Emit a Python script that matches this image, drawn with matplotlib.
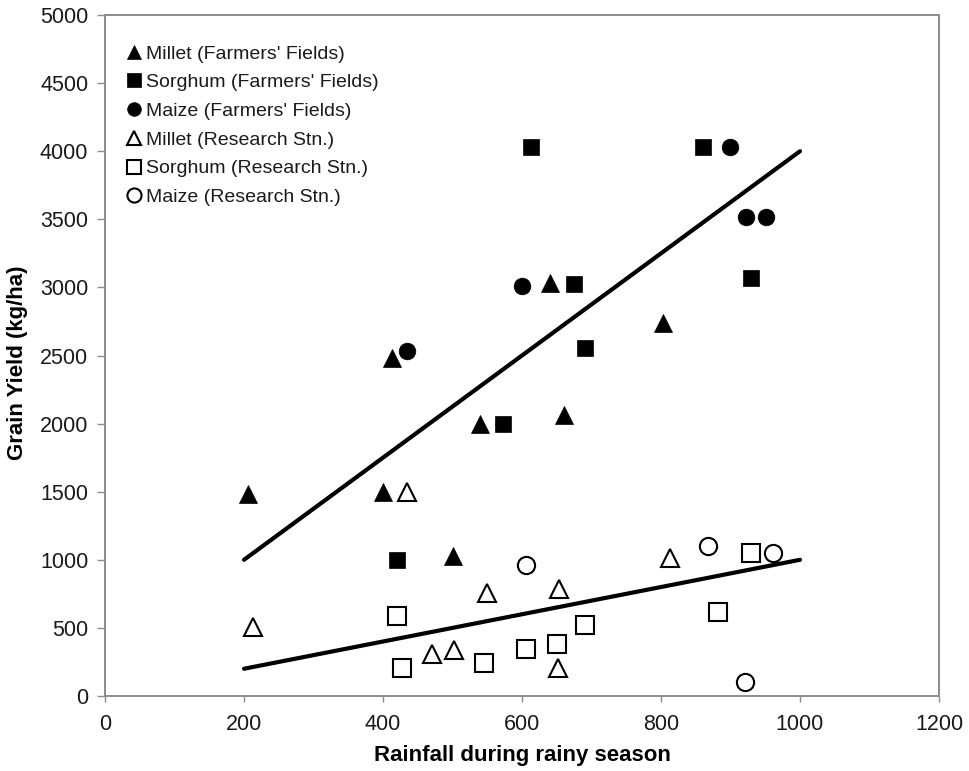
import matplotlib
matplotlib.use("Agg")
import matplotlib.pyplot as plt

plt.rcParams['font.family'] = ['Liberation Sans', 'DejaVu Sans']

# grain yield vs rainfall, farmers' fields (filled) and research station (open)
millet_ff_x = [205, 413, 400, 500, 540, 640, 660, 803]
millet_ff_y = [1480, 2480, 1500, 1030, 2000, 3030, 2060, 2740]
sorghum_ff_x = [613, 675, 690, 573, 860, 930, 420]
sorghum_ff_y = [4030, 3025, 2555, 2000, 4030, 3070, 1000]
maize_ff_x = [435, 600, 900, 923, 951]
maize_ff_y = [2530, 3010, 4030, 3515, 3515]

millet_rs_x = [213, 435, 550, 653, 470, 502, 652, 813]
millet_rs_y = [510, 1500, 755, 785, 310, 340, 205, 1015]
sorghum_rs_x = [420, 427, 545, 606, 650, 690, 930, 882]
sorghum_rs_y = [585, 205, 240, 345, 380, 520, 1050, 617]
maize_rs_x = [606, 868, 961, 921]
maize_rs_y = [962, 1100, 1050, 100]

# trend lines
trend_x = [200, 1000]
trend_ff_y = [1000, 4000]
trend_rs_y = [200, 1000]

fig = plt.figure(figsize=(9.69, 7.71), dpi=100)
ax = fig.add_axes([0.1084, 0.0973, 0.8606, 0.8832])

filled = dict(linestyle='none', color='k', mec='k', mew=0.5, zorder=3)
hollow = dict(linestyle='none', mfc='white', mec='k', mew=1.5, zorder=3)

ax.plot(millet_ff_x, millet_ff_y, '^', ms=12.3, label="Millet (Farmers' Fields)", **filled)
ax.plot(sorghum_ff_x, sorghum_ff_y, 's', ms=11.8, label="Sorghum (Farmers' Fields)", **filled)
ax.plot(maize_ff_x, maize_ff_y, 'o', ms=12.0, label="Maize (Farmers' Fields)", **filled)
ax.plot(millet_rs_x, millet_rs_y, '^', ms=13.0, label="Millet (Research Stn.)", **hollow)
ax.plot(sorghum_rs_x, sorghum_rs_y, 's', ms=12.4, label="Sorghum (Research Stn.)", **hollow)
ax.plot(maize_rs_x, maize_rs_y, 'o', ms=12.4, label="Maize (Research Stn.)", **hollow)

ax.plot(trend_x, trend_ff_y, color='k', lw=3, solid_capstyle='round', zorder=4)
ax.plot(trend_x, trend_rs_y, color='k', lw=3, solid_capstyle='round', zorder=4)

ax.set_xlim(0, 1200)
ax.set_ylim(0, 5000)
ax.set_xticks(range(0, 1201, 200))
ax.set_yticks(range(0, 5001, 500))

for s in ax.spines.values():
    s.set_color('#8c8c8c')
    s.set_linewidth(1.4)
ax.tick_params(axis='both', direction='out', color='#8c8c8c', width=1,
               labelsize=15.5, labelcolor='#1a1a1a')
ax.tick_params(axis='y', length=6, pad=6)
ax.tick_params(axis='x', length=4, pad=9)

ax.set_xlabel('Rainfall during rainy season', fontsize=16, fontweight='bold', labelpad=7)
ax.set_ylabel('Grain Yield (kg/ha)', fontsize=16, fontweight='bold')
ax.yaxis.set_label_coords(-0.092, 0.49)

leg = ax.legend(loc='upper left', bbox_to_anchor=(0.026, 0.956), frameon=False,
                fontsize=14, markerscale=0.82, handlelength=0.7, handletextpad=0.3,
                labelspacing=0.57, borderpad=0, borderaxespad=0)
for t in leg.get_texts():
    t.set_color('#1a1a1a')

fig.savefig('out.png', dpi=100)
